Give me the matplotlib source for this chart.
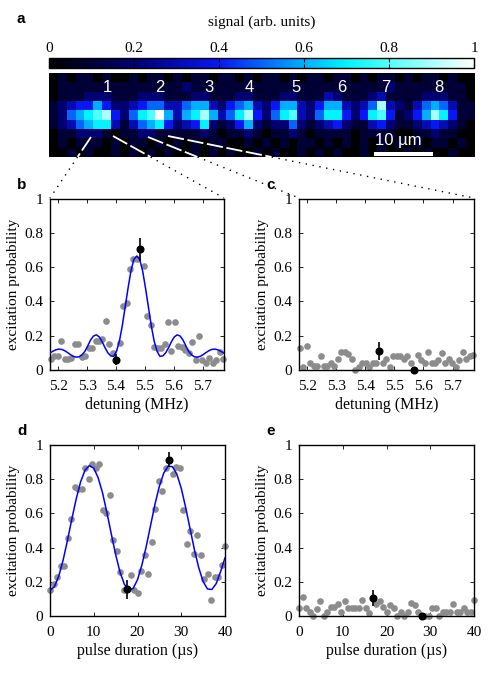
import numpy as np
import matplotlib
matplotlib.use('Agg')
import matplotlib.pyplot as plt
from matplotlib.colors import LinearSegmentedColormap
from matplotlib.lines import Line2D
from matplotlib.patches import Rectangle

# ---- panel a: fluorescence image (tenths, 'a' = 1.0), 9 rows x 48 columns
image_rows = [
    "0101101001" "0110101101" "1010110101" "1011010110" "10110100",
    "0111111111" "1111121111" "1111111111" "1111111121" "11111110",
    "0111222111" "2221112211" "1221112211" "1321112311" "11222110",
    "1234464223" "4553356632" "4563246632" "4663235932" "13565311",
    "1256789425" "78a6367963" "5794257832" "5774247841" "24697411",
    "1235677313" "5674234721" "2462122521" "2342113421" "12343210",
    "0112221011" "2211111210" "1121011210" "1111011110" "01121100",
    "0101110101" "1010101011" "0010101011" "0101010101" "01011010",
    "0010100101" "0101001010" "1001010010" "1010010100" "10100100",
]
atom_labels = ['1', '2', '3', '4', '5', '6', '7', '8']
atom_label_cols = [6.1, 12.0, 17.6, 22.1, 27.4, 32.6, 37.5, 43.5]

cbar_ticks = [0, 0.2, 0.4, 0.6, 0.8, 1]
cbar_ticklabels = ['0', '0.2', '0.4', '0.6', '0.8', '1']

# ---- panels b, c: detuning scans
det_start, det_stop, det_n = 5.174, 5.771, 51
prob_b = [0.066, 0.084, 0.084, 0.168, 0.066, 0.066, 0.068, 0.152, 0.152, 0.078,
          0.084, 0.131, 0.131, 0.172, 0.172, 0.178, 0.283, 0.150, 0.098, 0.061,
          0.158, 0.371, 0.389, 0.590, 0.645, 0.648, 0.703, 0.604, 0.316, 0.264,
          0.133, 0.129, 0.131, 0.154, 0.277, 0.110, 0.279, 0.141, 0.137, 0.117,
          0.100, 0.162, 0.061, 0.199, 0.061, 0.039, 0.070, 0.040, 0.060, 0.105,
          0.065]
prob_c = [0.127, 0.020, 0.139, 0.041, 0.023, 0.021, 0.084, 0.021, 0.023, 0.041,
          0.023, 0.066, 0.107, 0.104, 0.092, 0.063, 0.000, 0.020, 0.041, 0.041,
          0.020, 0.039, 0.039, 0.111, 0.041, 0.066, 0.020, 0.084, 0.084, 0.084,
          0.066, 0.084, 0.041, 0.000, 0.088, 0.060, 0.041, 0.107, 0.041, 0.041,
          0.060, 0.100, 0.041, 0.066, 0.041, 0.020, 0.060, 0.107, 0.066, 0.084,
          0.088]
hl_b_idx = [19, 26]
hl_b_err = [0.03, 0.066]
hl_c_idx = [23, 33]
hl_c_err = [0.05, 0.0]

fit_b_x = [5.172, 5.182, 5.192, 5.202, 5.212, 5.222, 5.232, 5.242, 5.252, 5.262,
           5.272, 5.282, 5.292, 5.302, 5.312, 5.322, 5.332, 5.342, 5.352, 5.362,
           5.372, 5.382, 5.392, 5.402, 5.412, 5.422, 5.432, 5.442, 5.452, 5.462,
           5.472, 5.482, 5.492, 5.502, 5.512, 5.522, 5.532, 5.542, 5.552, 5.562,
           5.572, 5.582, 5.592, 5.602, 5.612, 5.622, 5.632, 5.642, 5.652, 5.662,
           5.672, 5.682, 5.692, 5.702, 5.712, 5.722, 5.732, 5.742, 5.752, 5.762,
           5.772]
fit_b_y = [0.100, 0.110, 0.118, 0.122, 0.120, 0.113, 0.102, 0.090, 0.080, 0.075,
           0.077, 0.088, 0.108, 0.140, 0.175, 0.198, 0.205, 0.193, 0.165, 0.130,
           0.100, 0.082, 0.080, 0.110, 0.170, 0.260, 0.370, 0.480, 0.580, 0.645,
           0.665, 0.645, 0.580, 0.480, 0.370, 0.260, 0.170, 0.110, 0.080, 0.082,
           0.100, 0.130, 0.165, 0.193, 0.205, 0.198, 0.175, 0.140, 0.108, 0.088,
           0.077, 0.075, 0.080, 0.090, 0.102, 0.113, 0.120, 0.122, 0.118, 0.110,
           0.100]

# ---- panels d, e: Rabi oscillations
t_start, t_stop, t_n = 0, 40, 51
prob_d = [0.150, 0.190, 0.226, 0.294, 0.290, 0.457, 0.570, 0.755, 0.745, 0.743,
          0.868, 0.800, 0.889, 0.864, 0.889, 0.622, 0.600, 0.708, 0.444, 0.380,
          0.260, 0.152, 0.156, 0.237, 0.152, 0.134, 0.265, 0.358, 0.243, 0.430,
          0.628, 0.790, 0.733, 0.864, 0.914, 0.830, 0.870, 0.864, 0.620, 0.420,
          0.498, 0.362, 0.475, 0.354, 0.218, 0.247, 0.093, 0.226, 0.226, 0.300,
          0.410]
prob_e = [0.045, 0.109, 0.045, 0.025, 0.000, 0.039, 0.090, 0.000, 0.025, 0.055,
          0.055, 0.068, 0.025, 0.088, 0.045, 0.045, 0.045, 0.045, 0.094, 0.045,
          0.020, 0.107, 0.070, 0.090, 0.050, 0.025, 0.064, 0.045, 0.000, 0.025,
          0.000, 0.025, 0.074, 0.064, 0.025, 0.000, 0.000, 0.000, 0.045, 0.045,
          0.000, 0.025, 0.025, 0.025, 0.070, 0.025, 0.025, 0.045, 0.025, 0.025,
          0.094]
hl_d_idx = [22, 34]
hl_d_err = [0.055, 0.045]
hl_e_idx = [21, 35]
hl_e_err = [0.047, 0.0]

fit_d_t = list(range(0, 41))
fit_d_y = [0.150, 0.171, 0.233, 0.327, 0.443, 0.568, 0.686, 0.785, 0.852, 0.880,
           0.864, 0.809, 0.721, 0.606, 0.481, 0.360, 0.257, 0.185, 0.152, 0.161,
           0.212, 0.298, 0.407, 0.531, 0.654, 0.759, 0.836, 0.876, 0.873, 0.829,
           0.747, 0.636, 0.512, 0.389, 0.282, 0.201, 0.158, 0.155, 0.190, 0.260,
           0.340]

plt.rcParams['font.family'] = 'Liberation Serif'
plt.rcParams['font.size'] = 11

W, H = 498, 685
fig = plt.figure(figsize=(W / 100, H / 100), dpi=100)


def px_rect(l, t, r, b):
    return [l / W, 1 - b / H, (r - l) / W, (b - t) / H]


def px(x, y):
    return x / W, 1 - y / H


cmap = LinearSegmentedColormap.from_list('signal', [
    (0.0, '#000000'), (0.2, '#000070'), (0.4, '#0818f5'),
    (0.6, '#00b0ff'), (0.7, '#00f4ff'), (0.8, '#50ffff'), (1.0, '#ffffff')])

# panel a
img = np.array([[int(c, 16) / 10 for c in row] for row in image_rows])
ax_a = fig.add_axes(px_rect(49, 73, 474, 157))
im = ax_a.imshow(img, cmap=cmap, vmin=0, vmax=1, aspect='auto',
                 interpolation='nearest')
ax_a.set_xticks([])
ax_a.set_yticks([])
for s in ax_a.spines.values():
    s.set_visible(False)
for lab, col in zip(atom_labels, atom_label_cols):
    ax_a.text(col, 1.0, lab, color='white', ha='center', va='center',
              fontsize=12, family='Liberation Sans')
ax_a.add_patch(Rectangle((0.765, 0.015), 0.139, 0.048, transform=ax_a.transAxes,
                         color='white', lw=0))
ax_a.text(0.823, 0.2, '10 µm', transform=ax_a.transAxes, color='white',
          ha='center', va='center', fontsize=12, family='Liberation Sans')

cax = fig.add_axes(px_rect(49, 58, 474, 68))
cb = fig.colorbar(im, cax=cax, orientation='horizontal')
cb.set_ticks(cbar_ticks)
cb.set_ticklabels(cbar_ticklabels)
cax.xaxis.set_ticks_position('top')
cax.tick_params(axis='x', direction='in', length=3, width=0.8, top=True,
                bottom=True, pad=2, labelsize=11)
cb.outline.set_linewidth(1.0)
fig.text(*px(262, 22), 'signal (arb. units)', ha='center', va='center',
         fontsize=11)

# connector lines from atoms to panels b and c
img_bottom = 157
connectors = [((91, 137), (50, 198)), ((113, 136), (224, 198)),
              ((148, 137), (299, 198)), ((168, 136), (474, 198))]
for (x0, y0), (x1, y1) in connectors:
    xm = x0 + (x1 - x0) * (img_bottom - y0) / (y1 - y0)
    a0, b0 = px(x0, y0)
    am, bm = px(xm, img_bottom)
    a1, b1 = px(x1, y1)
    fig.add_artist(Line2D([a0, am], [b0, bm], color='white', lw=1.3,
                          linestyle=(0, (9, 2))))
    fig.add_artist(Line2D([am, a1], [bm, b1], color='black', lw=1.0,
                          linestyle=(0, (1, 4))))


def style_axes(ax, xlim, xticks, xlabel):
    ax.set_xlim(*xlim)
    ax.set_ylim(0, 1)
    ax.set_xticks(xticks)
    ax.set_yticks([0, 0.2, 0.4, 0.6, 0.8, 1])
    ax.set_yticklabels(['0', '0.2', '0.4', '0.6', '0.8', '1'])
    ax.tick_params(direction='in', length=3, width=0.6, top=True, right=True,
                   labelsize=11)
    ax.tick_params(axis='x', pad=7)
    ax.tick_params(axis='y', pad=5)
    for s in ax.spines.values():
        s.set_linewidth(1.0)
    ax.set_xlabel(xlabel, labelpad=3, fontsize=11.5)
    ax.set_ylabel('excitation probability', labelpad=3, fontsize=11)


def draw_points(ax, x, y, idx, err):
    ax.plot(x, y, 'o', color='#8c8c8c', ms=4.8, mec='none', clip_on=False,
            zorder=2)
    for i, e in zip(idx, err):
        if e > 0:
            ax.errorbar(x[i], y[i], yerr=e, fmt='o', color='black', ms=4.8,
                        elinewidth=1.2, capsize=0, clip_on=False, zorder=4)
        else:
            ax.plot(x[i], y[i], 'o', color='black', ms=4.8, clip_on=False,
                    zorder=4)


det = np.linspace(det_start, det_stop, det_n)
tt = np.linspace(t_start, t_stop, t_n)
det_ticks = [5.2, 5.3, 5.4, 5.5, 5.6, 5.7]
det_lim = (5.1715, 5.774)

ax_b = fig.add_axes(px_rect(50, 198.5, 224, 370))
ax_b.plot(fit_b_x, fit_b_y, color='#0000ff', lw=1.1, zorder=3)
draw_points(ax_b, det, np.array(prob_b), hl_b_idx, hl_b_err)
style_axes(ax_b, det_lim, det_ticks, 'detuning (MHz)')

ax_c = fig.add_axes(px_rect(299, 198.5, 474, 370))
draw_points(ax_c, det, np.array(prob_c), hl_c_idx, hl_c_err)
style_axes(ax_c, det_lim, det_ticks, 'detuning (MHz)')

ax_d = fig.add_axes(px_rect(50, 445, 225, 616))
ax_d.plot(fit_d_t, fit_d_y, color='#0000ff', lw=1.1, zorder=3)
draw_points(ax_d, tt, np.array(prob_d), hl_d_idx, hl_d_err)
style_axes(ax_d, (0, 40), [0, 10, 20, 30, 40], 'pulse duration (µs)')

ax_e = fig.add_axes(px_rect(299, 445, 474, 616))
draw_points(ax_e, tt, np.array(prob_e), hl_e_idx, hl_e_err)
style_axes(ax_e, (0, 40), [0, 10, 20, 30, 40], 'pulse duration (µs)')

for lab, (x, y) in zip('abcde', [(21, 19), (22, 185), (271, 185), (22, 431),
                                 (271, 431)]):
    fig.text(*px(x, y), lab, ha='center', va='center', fontsize=11,
             fontweight='bold', family='Liberation Sans')

fig.savefig('out.png', dpi=100)
